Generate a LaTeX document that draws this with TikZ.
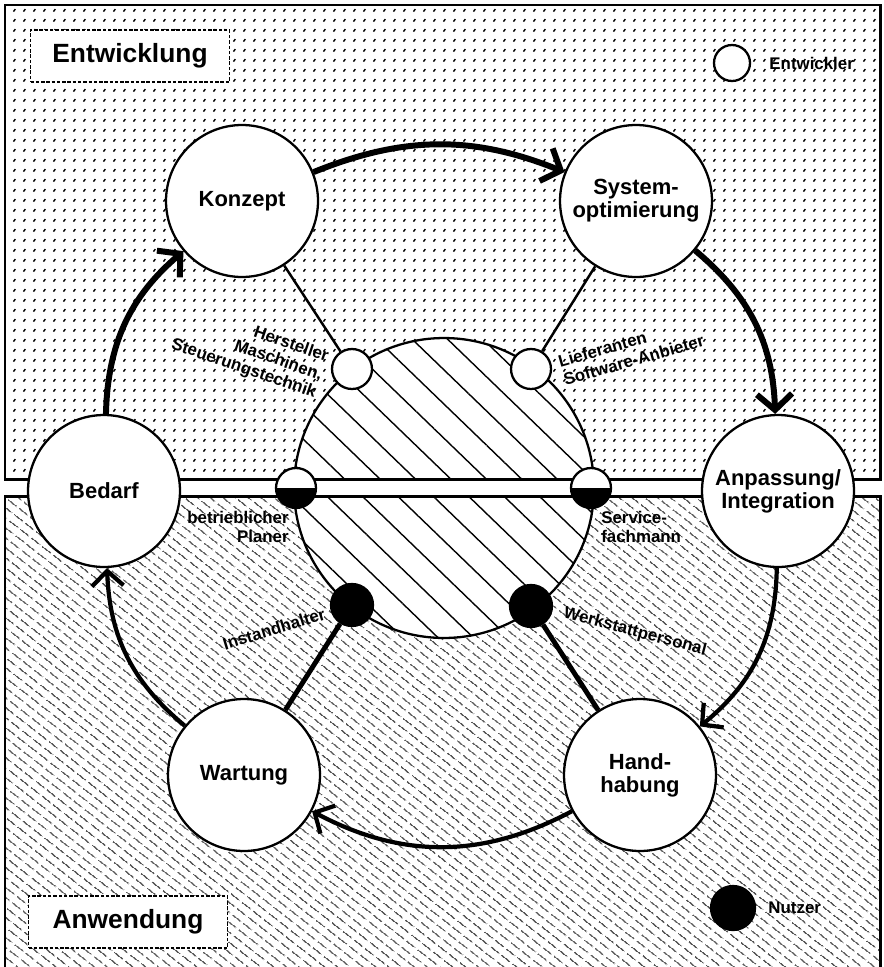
\documentclass[tikz,border=0pt]{standalone}
\usepackage{fontspec}
\setmainfont{Liberation Sans}
\usepackage{tikz}
\usetikzlibrary{arrows.meta, patterns.meta, positioning}

\tikzdeclarepattern{
  name=speckle,
  type=uncolored,
  bottom left={(0pt,0pt)},
  top right={(5.6pt,5.6pt)},
  tile size={(5.6pt,5.6pt)},
  code={\draw[line width=0.8pt] (2pt,2pt) -- (3.1pt,3.4pt);}
}
\tikzdeclarepattern{
  name=dashhatch,
  type=uncolored,
  bottom left={(0pt,0pt)},
  top right={(8pt,4.6pt)},
  tile size={(8pt,4.6pt)},
  tile transformation={rotate=-38},
  code={\draw[line width=0.6pt] (0pt,2pt) -- (6.5pt,2pt);}
}

\begin{document}
\begin{tikzpicture}[x=0.02cm, y=0.02cm,
    stage/.style={circle, draw, line width=1.3pt, fill=white, minimum size=3.04cm, inner sep=0pt, align=center, font=\fontsize{12.5}{13}\selectfont\bfseries},
    actor/.style={circle, draw, line width=1.3pt, fill=white, minimum size=0.8cm, inner sep=0pt},
    user/.style={actor, fill=black},
    mixed/.style={actor, path picture={\fill[black] (path picture bounding box.west) rectangle (path picture bounding box.south east);}},
    tag/.style={inner sep=0pt, align=center, font=\fontsize{9.6}{10.8}\selectfont\bfseries},
    areabox/.style={draw, dash pattern=on 2pt off 1pt, line width=0.6pt, fill=white, minimum width=3.98cm, minimum height=1.04cm, font=\fontsize{15}{18}\selectfont\bfseries},
    upflow/.style={line width=3.4pt, -{Straight Barb[length=9pt,width=20pt]}},
    downflow/.style={line width=2.4pt, -{Straight Barb[length=8.5pt,width=18pt]}},
    thinlink/.style={line width=1.4pt},
    thicklink/.style={line width=2.8pt}
  ]
  \useasboundingbox (0,0) rectangle (883,-967);
  \fill[pattern=speckle] (5,-5) rectangle (880,-479);
  \fill[pattern=dashhatch] (5,-496) rectangle (880,-990);
  \node[circle, draw, line width=1.3pt, fill=white, minimum size=6cm, postaction={pattern={Lines[angle=-44,distance=14pt,line width=0.8pt]}}] (hub) at (444,-488) {};
  \fill[white] (5,-479) rectangle (880,-496);
  \draw[line width=1.7pt] (5,-5) rectangle (880,-479);
  \draw[line width=1.7pt] (5,-496) rectangle (880,-990);

  \node[areabox] (entwicklung) at (130,-56) {Entwicklung};
  \node[areabox] (anwendung) at (128,-922) {Anwendung};

  \node[stage] (konzept) at (242,-201) {Konzept};
  \node[stage] (system) at (636,-201) {System-\\optimierung};
  \node[stage] (anpassung) at (778,-491) {Anpassung/\\Integration};
  \node[stage] (handhabung) at (640,-775) {Hand-\\habung};
  \node[stage] (wartung) at (244,-775) {Wartung};
  \node[stage] (bedarf) at (104,-491) {Bedarf};

  \node[actor] (hersteller) at (352,-369) {};
  \node[actor] (lieferanten) at (531,-369) {};
  \node[mixed] (planer) at (296,-488) {};
  \node[mixed] (service) at (591,-488) {};
  \node[user, minimum size=0.84cm] (instandhalter) at (352,-605) {};
  \node[user, minimum size=0.84cm] (werkstatt) at (531,-606) {};

  \draw[thinlink] (konzept) -- (hersteller);
  \draw[thinlink] (system) -- (lieferanten);
  \draw[thicklink] (wartung) -- (instandhalter);
  \draw[thicklink] (handhabung) -- (werkstatt);

  \draw[upflow] (konzept) to[bend left=22] (system);
  \draw[upflow] (system) to[bend left=24] (anpassung);
  \draw[downflow] (anpassung) to[bend left=25] (handhabung);
  \draw[downflow] (handhabung) to[bend left=28] (wartung);
  \draw[downflow] (wartung) to[bend left=24] (bedarf);
  \draw[upflow] (bedarf) to[bend left=24] (konzept);

  \node[tag, anchor=east, rotate=-19, align=right] (herstellertext) at (322,-376) {Hersteller\\Maschinen,\\Steuerungstechnik};
  \node[tag, anchor=west, rotate=16, align=left] (lieferantentext) at (561,-371) {Lieferanten\\Software-Anbieter};
  \node[tag, anchor=east, align=right] (planertext) at (289,-527) {betrieblicher\\Planer};
  \node[tag, anchor=west, align=left] (servicetext) at (601,-527) {Service-\\fachmann};
  \node[tag, rotate=17] (instandhaltertext) at (274,-629) {Instandhalter};
  \node[tag, rotate=-15] (werkstatttext) at (635,-632) {Werkstattpersonal};

  \node[actor, minimum size=0.72cm] (entwickler) at (732,-63) {};
  \node[tag, right=0.36cm of entwickler] (entwicklertext) {Entwickler};
  \node[user, minimum size=0.88cm] (nutzer) at (733,-908) {};
  \node[tag, right=0.24cm of nutzer] (nutzertext) {Nutzer};
\end{tikzpicture}
\end{document}
